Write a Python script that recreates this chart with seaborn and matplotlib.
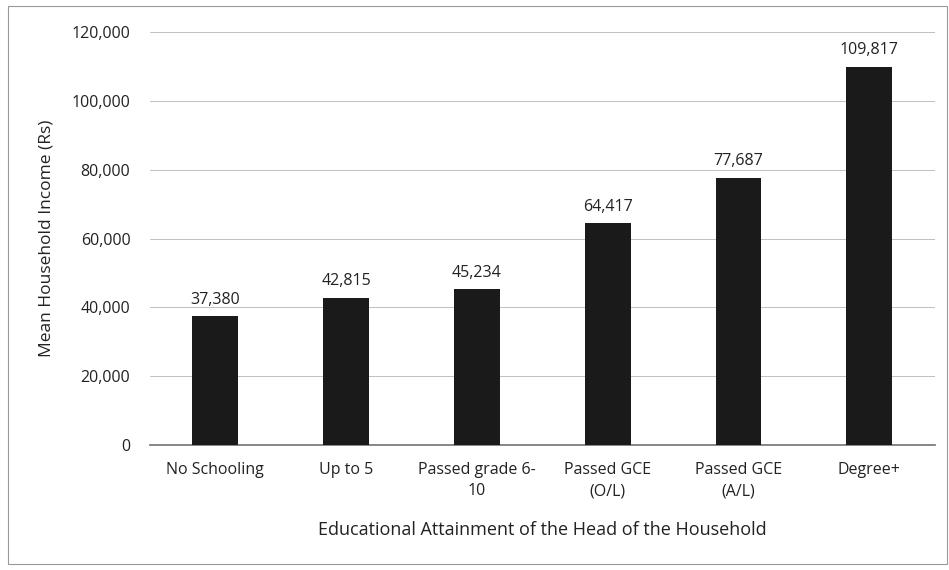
import matplotlib
matplotlib.use('Agg')
import matplotlib.pyplot as plt
import seaborn as sns
import pandas as pd
from matplotlib.patches import Rectangle
from matplotlib.ticker import FuncFormatter

categories = ["No Schooling", "Up to 5", "Passed grade 6-\n10",
              "Passed GCE\n(O/L)", "Passed GCE\n(A/L)", "Degree+"]
income = [37380, 42815, 45234, 64417, 77687, 109817]

df = pd.DataFrame({"Education": categories, "Income": income})

sns.set_theme(style="white")
plt.rcParams['font.family'] = ['Open Sans', 'DejaVu Sans']

fig = plt.figure(figsize=(9.49, 5.7), dpi=100)
ax = fig.add_axes([0.158, 0.219, 0.827, 0.725])

sns.barplot(data=df, x="Education", y="Income", color="#1a1a1a",
            width=0.35, linewidth=0, ax=ax, zorder=3)

ax.set_ylim(0, 120000)
ax.set_yticks(range(0, 120001, 20000))
ax.yaxis.set_major_formatter(FuncFormatter(lambda v, p: f"{int(v):,}"))
ax.grid(axis="y", color="#c0c0c0", linewidth=0.7, zorder=0)
for s in ["top", "right", "left"]:
    ax.spines[s].set_visible(False)
ax.spines["bottom"].set_color("#777777")
ax.tick_params(axis="y", labelsize=11.5, colors="#222222", length=0, pad=14)
ax.tick_params(axis="x", labelsize=11.5, colors="#222222", length=0, pad=12)
for lbl in ax.get_xticklabels():
    lbl.set_linespacing(1.45)

for i, v in enumerate(income):
    ax.text(i, v + 2500, f"{v:,}", ha="center", va="bottom", fontsize=11.5,
            color="#222222")

ax.set_xlabel("Educational Attainment of the Head of the Household",
              fontsize=13, color="#222222", labelpad=16)
ax.set_ylabel("Mean Household Income (Rs)", fontsize=12.5, color="#222222",
              labelpad=12)

fig.patches.append(Rectangle((0.008, 0.01), 0.99, 0.98, transform=fig.transFigure,
                             fill=False, edgecolor="#999999", linewidth=0.8))

fig.savefig("out.png", dpi=100)
